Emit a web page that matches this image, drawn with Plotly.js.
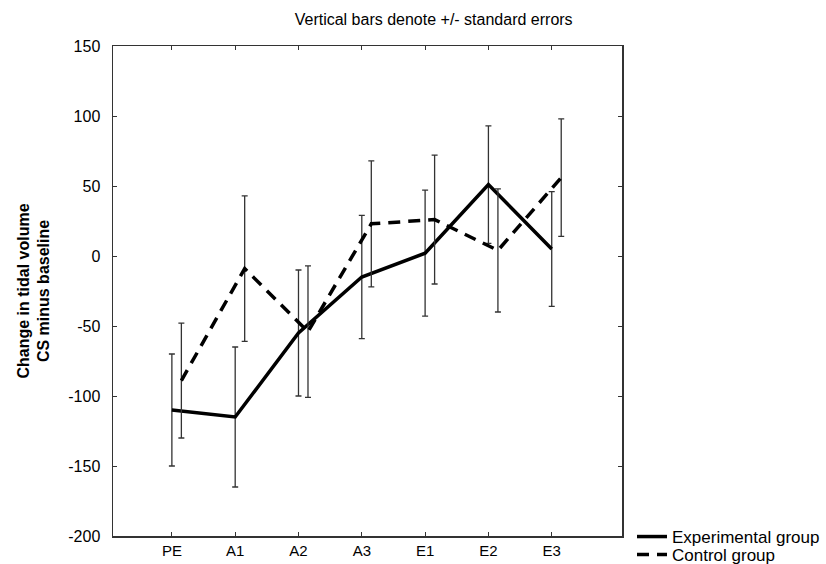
<!DOCTYPE html>
<html>
<head>
<meta charset="utf-8">
<script src="https://cdn.plot.ly/plotly-3.0.1.min.js"></script>
<style>
html,body{margin:0;padding:0;background:#fff;}
#chart{width:826px;height:564px;}
</style>
</head>
<body>
<div id="chart"></div>
<script>
const categories = ["PE", "A1", "A2", "A3", "E1", "E2", "E3"];
const expMean = [-110, -115, -55, -15, 2, 51, 5];
const expSE   = [40, 50, 45, 44, 45, 42, 41];
const ctrlMean = [-89, -9, -54, 23, 26, 4, 56];
const ctrlSE   = [41, 52, 47, 45, 46, 44, 42];
const yTicks = [-200, -150, -100, -50, 0, 50, 100, 150];
const yTickText = ["-200", "-150", "-100", "-50", "0", "50", "100", "150"];

const idx = categories.map((c, i) => i);
const ctrlX = idx.map(i => i + 0.15);

const errStyle = {type: 'data', visible: true, color: '#333', thickness: 1.3, width: 3};

const traces = [
  {
    x: idx, y: expMean, type: 'scatter', mode: 'lines', name: 'Experimental group',
    line: {color: '#000', width: 3.5},
    error_y: Object.assign({array: expSE}, errStyle),
    legend: 'legend'
  },
  {
    x: ctrlX, y: ctrlMean, type: 'scatter', mode: 'lines', name: 'Control group',
    line: {color: '#000', width: 3.5, dash: '12px,8px'},
    error_y: Object.assign({array: ctrlSE}, errStyle),
    legend: 'legend2'
  }
];

const legendBase = {
  xref: 'container', yref: 'container',
  xanchor: 'left', yanchor: 'middle',
  font: {size: 17, color: '#000', family: 'Liberation Sans, Arial, sans-serif'},
  bgcolor: 'rgba(0,0,0,0)', itemwidth: 30, borderwidth: 0
};

const layout = {
  width: 826, height: 564,
  paper_bgcolor: '#fff', plot_bgcolor: '#fff',
  margin: {l: 113, r: 204, t: 46, b: 28},
  font: {family: 'Liberation Sans, Arial, sans-serif', color: '#000'},
  title: {
    text: 'Vertical bars denote +/- standard errors',
    font: {size: 16, color: '#000'},
    x: 0.525, xref: 'container', xanchor: 'center',
    y: 0.965, yref: 'container', yanchor: 'middle'
  },
  xaxis: {
    range: [-0.93, 7.11],
    tickvals: idx, ticktext: categories,
    ticks: 'inside', ticklen: 4, tickcolor: '#333',
    showline: true, linecolor: '#333', linewidth: 1.5, mirror: 'ticks',
    showgrid: false, zeroline: false,
    tickfont: {size: 15}
  },
  yaxis: {
    range: [-200, 150],
    tickvals: yTicks, ticktext: yTickText,
    ticks: 'inside', ticklen: 4, tickcolor: '#333',
    showline: true, linecolor: '#333', linewidth: 1.5, mirror: 'ticks',
    showgrid: false, zeroline: false,
    ticklabelstandoff: 8,
    tickfont: {size: 16},
    title: {text: '<b>Change in tidal volume<br>CS minus baseline</b>', font: {size: 16}, standoff: 14}
  },
  showlegend: true,
  legend: Object.assign({}, legendBase, {x: 632 / 826, y: 1 - 537 / 564}),
  legend2: Object.assign({}, legendBase, {x: 632 / 826, y: 1 - 555 / 564})
};

Plotly.newPlot('chart', traces, layout, {displayModeBar: false, staticPlot: true});
</script>
</body>
</html>
